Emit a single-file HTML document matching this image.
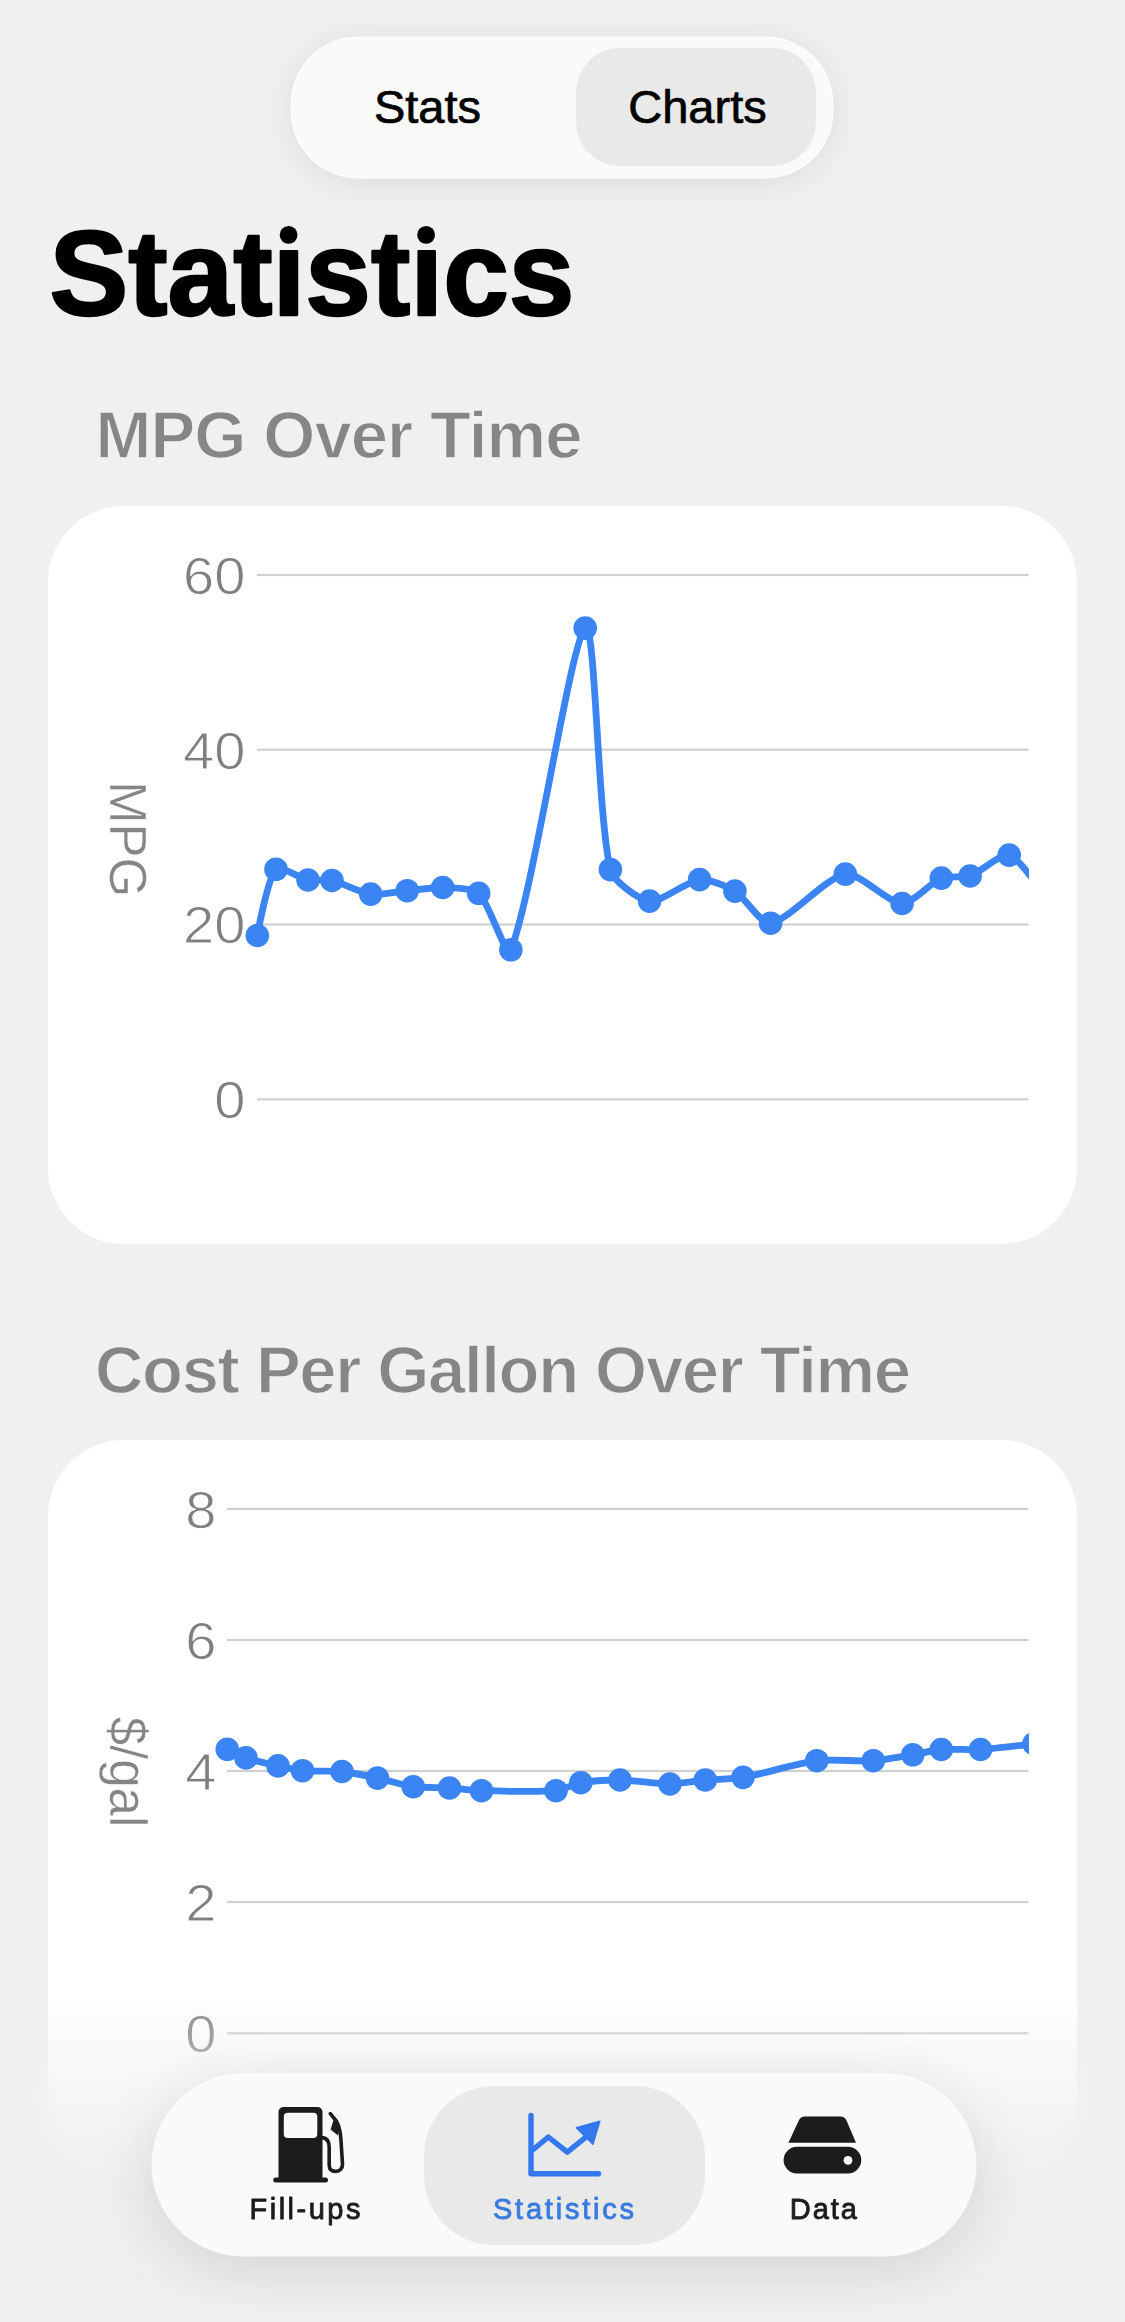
<!DOCTYPE html>
<html><head><meta charset="utf-8">
<style>
*{margin:0;padding:0;box-sizing:border-box}
html,body{width:1125px;height:2322px;overflow:hidden;background:#f0f0f0;font-family:"Liberation Sans",sans-serif;position:relative}
.a{position:absolute}
.card{position:absolute;left:48px;width:1029px;background:#fff;border-radius:76px}
.seg{left:292px;top:38px;width:540px;height:139px;border-radius:66px;background:#fafafa;box-shadow:0 0 0 1.5px rgba(255,255,255,0.9),0 4px 36px rgba(0,0,0,0.09)}
.segsel{left:576px;top:48px;width:240px;height:118px;border-radius:44px;background:#e9e9e9}
svg{position:absolute;left:0;top:0;overflow:visible}
.al{font-family:"Liberation Sans",sans-serif;font-size:51px;fill:#7f7f7f;stroke:#fff;stroke-width:0.9px}
.h2{font-family:"Liberation Sans",sans-serif;font-weight:700;font-size:67px;fill:#868686;stroke:#f0f0f0;stroke-width:1.3px}
.blur{left:0;top:2040px;width:1125px;height:282px;backdrop-filter:blur(10px);-webkit-backdrop-filter:blur(10px);
  -webkit-mask-image:linear-gradient(to bottom,rgba(0,0,0,0) 0,#000 45%);mask-image:linear-gradient(to bottom,rgba(0,0,0,0) 0,#000 45%)}
.fade{left:0;top:2000px;width:1125px;height:322px;background:linear-gradient(to bottom,rgba(240,240,240,0.12) 0%,rgba(240,240,240,0.5) 25%,rgba(239,239,239,0.88) 50%,rgba(239,239,239,0.98) 70%,rgba(240,240,240,1) 100%)}
.tab{left:153px;top:2075px;width:822px;height:180px;border-radius:90px;background:#fafafa;box-shadow:0 0 0 1.5px rgba(255,255,255,0.8),0 12px 64px rgba(0,0,0,0.13)}
.tabsel{left:424px;top:2086px;width:281px;height:159px;border-radius:70px;background:#e9e9e9}
.tl{font-family:"Liberation Sans",sans-serif;font-weight:400;font-size:29px;stroke-width:0.85px;stroke-linejoin:round}
</style></head><body>
<div class="card" style="top:506px;height:738px"></div>
<div class="card" style="top:1440px;height:738px"></div>
<svg width="1125" height="2322" viewBox="0 0 1125 2322">
<text x="49.5" y="315" style="font-family:'Liberation Sans',sans-serif;font-weight:700;font-size:121px" fill="#000" stroke="#000" stroke-width="2.4" stroke-linejoin="round" textLength="525" lengthAdjust="spacingAndGlyphs">Statıstıcs</text>
<circle cx="288.6" cy="234.9" r="8.9" fill="#000"/><circle cx="426.1" cy="234.9" r="8.9" fill="#000"/>
<text x="95.5" y="458.3" class="h2" textLength="487" lengthAdjust="spacing">MPG Over Time</text>
<text x="95" y="1392.6" class="h2" textLength="816" lengthAdjust="spacing">Cost Per Gallon Over Time</text>
<clipPath id="c1"><rect x="237" y="515" width="792" height="644"/></clipPath>
<rect x="257" y="573.9" width="771.5" height="2.2" fill="#d0d0d0"/>
<rect x="257" y="748.6" width="771.5" height="2.2" fill="#d0d0d0"/>
<rect x="257" y="923.4" width="771.5" height="2.2" fill="#d0d0d0"/>
<rect x="257" y="1098.2" width="771.5" height="2.2" fill="#d0d0d0"/>
<text transform="translate(245.5 593.8) scale(1.1 1)" text-anchor="end" class="al" letter-spacing="0">60</text>
<text transform="translate(245.5 768.5) scale(1.1 1)" text-anchor="end" class="al" letter-spacing="0">40</text>
<text transform="translate(245.5 943.3) scale(1.1 1)" text-anchor="end" class="al" letter-spacing="0">20</text>
<text transform="translate(245.5 1118.1) scale(1.1 1)" text-anchor="end" class="al" letter-spacing="0">0</text>
<text transform="translate(110.0 839.0) rotate(90)" text-anchor="middle" class="al" style="fill:#858585;stroke-width:0.4px">MPG</text>
<g clip-path="url(#c1)">
<path d="M257.3 935.5 C257.3 935.5 267.5 878.6 276.0 869.3 C280.2 864.7 299.8 878.4 308.0 880.0 C313.8 881.2 326.2 879.2 332.0 880.5 C341.9 882.7 360.8 892.8 370.7 894.1 C379.6 895.3 398.1 891.5 407.2 890.7 C416.1 889.9 433.9 887.2 442.7 887.5 C451.7 887.8 472.6 887.7 478.7 893.3 C489.6 903.3 506.5 960.7 510.9 949.8 C533.1 894.4 570.9 639.7 585.2 628.1 C595.7 619.6 597.1 813.1 610.4 869.6 C613.2 881.3 638.9 899.9 649.6 901.1 C661.2 902.4 686.9 881.1 699.6 879.6 C708.2 878.6 727.2 886.3 734.9 891.1 C744.9 897.2 761.0 924.7 770.6 923.2 C788.6 920.4 826.1 877.0 845.3 874.1 C859.0 872.0 888.2 902.9 902.1 903.5 C912.2 903.9 930.8 882.3 941.3 878.1 C947.8 875.5 963.4 878.3 970.1 876.0 C980.4 872.5 1000.8 852.9 1009.2 855.1 C1019.5 857.9 1045.0 896.0 1045.0 896.0" fill="none" stroke="#3b84f3" stroke-width="6.8" stroke-linejoin="round"/>
<circle cx="257.3" cy="935.5" r="11.8" fill="#3b84f3"/>
<circle cx="276.0" cy="869.3" r="11.8" fill="#3b84f3"/>
<circle cx="308.0" cy="880.0" r="11.8" fill="#3b84f3"/>
<circle cx="332.0" cy="880.5" r="11.8" fill="#3b84f3"/>
<circle cx="370.7" cy="894.1" r="11.8" fill="#3b84f3"/>
<circle cx="407.2" cy="890.7" r="11.8" fill="#3b84f3"/>
<circle cx="442.7" cy="887.5" r="11.8" fill="#3b84f3"/>
<circle cx="478.7" cy="893.3" r="11.8" fill="#3b84f3"/>
<circle cx="510.9" cy="949.8" r="11.8" fill="#3b84f3"/>
<circle cx="585.2" cy="628.1" r="11.8" fill="#3b84f3"/>
<circle cx="610.4" cy="869.6" r="11.8" fill="#3b84f3"/>
<circle cx="649.6" cy="901.1" r="11.8" fill="#3b84f3"/>
<circle cx="699.6" cy="879.6" r="11.8" fill="#3b84f3"/>
<circle cx="734.9" cy="891.1" r="11.8" fill="#3b84f3"/>
<circle cx="770.6" cy="923.2" r="11.8" fill="#3b84f3"/>
<circle cx="845.3" cy="874.1" r="11.8" fill="#3b84f3"/>
<circle cx="902.1" cy="903.5" r="11.8" fill="#3b84f3"/>
<circle cx="941.3" cy="878.1" r="11.8" fill="#3b84f3"/>
<circle cx="970.1" cy="876.0" r="11.8" fill="#3b84f3"/>
<circle cx="1009.2" cy="855.1" r="11.8" fill="#3b84f3"/>
<circle cx="1045.0" cy="896.0" r="11.8" fill="#3b84f3"/>
</g>
<clipPath id="c2"><rect x="207" y="1448" width="822" height="645"/></clipPath>
<rect x="227" y="1507.8" width="801.5" height="2.2" fill="#d0d0d0"/>
<rect x="227" y="1638.9" width="801.5" height="2.2" fill="#d0d0d0"/>
<rect x="227" y="1769.9" width="801.5" height="2.2" fill="#d0d0d0"/>
<rect x="227" y="1900.9" width="801.5" height="2.2" fill="#d0d0d0"/>
<rect x="227" y="2032.2" width="801.5" height="2.2" fill="#d0d0d0"/>
<text transform="translate(216.5 1527.7) scale(1.1 1)" text-anchor="end" class="al" letter-spacing="0">8</text>
<text transform="translate(216.5 1658.8) scale(1.1 1)" text-anchor="end" class="al" letter-spacing="0">6</text>
<text transform="translate(216.5 1789.8) scale(1.1 1)" text-anchor="end" class="al" letter-spacing="0">4</text>
<text transform="translate(216.5 1920.8) scale(1.1 1)" text-anchor="end" class="al" letter-spacing="0">2</text>
<text transform="translate(216.5 2052.1) scale(1.1 1)" text-anchor="end" class="al" letter-spacing="0">0</text>
<text transform="translate(110.0 1772.0) rotate(90)" text-anchor="middle" class="al" style="fill:#858585;stroke-width:0.4px">$/gal</text>
<g clip-path="url(#c2)">
<path d="M227.3 1749.3 C227.3 1749.3 241.1 1756.3 246.0 1757.9 C253.8 1760.5 270.0 1764.1 278.0 1765.9 C284.1 1767.3 296.3 1770.2 302.5 1770.7 C312.3 1771.6 332.2 1770.5 342.0 1771.5 C351.0 1772.4 368.7 1776.2 377.5 1778.1 C386.5 1780.0 404.2 1785.5 413.2 1786.7 C422.2 1787.9 440.4 1787.5 449.5 1788.0 C457.5 1788.5 473.5 1790.5 481.5 1790.7 C500.1 1791.2 537.6 1792.2 556.0 1790.7 C562.4 1790.2 574.4 1783.8 580.8 1782.7 C590.4 1781.1 610.2 1779.9 620.0 1780.0 C632.5 1780.2 657.4 1784.0 669.9 1784.0 C678.8 1784.0 696.4 1780.8 705.3 1780.0 C714.7 1779.2 733.7 1779.0 743.0 1777.4 C761.6 1774.2 798.2 1763.1 816.8 1760.7 C830.7 1758.9 859.2 1761.6 873.3 1760.7 C883.2 1760.1 902.9 1756.4 912.8 1754.8 C919.9 1753.6 934.1 1750.1 941.3 1749.5 C951.0 1748.7 970.7 1750.1 980.5 1749.5 C993.9 1748.7 1020.6 1745.3 1034.0 1743.7 C1044.3 1742.5 1075.0 1738.0 1075.0 1738.0" fill="none" stroke="#3b84f3" stroke-width="6.8" stroke-linejoin="round"/>
<circle cx="227.3" cy="1749.3" r="11.8" fill="#3b84f3"/>
<circle cx="246.0" cy="1757.9" r="11.8" fill="#3b84f3"/>
<circle cx="278.0" cy="1765.9" r="11.8" fill="#3b84f3"/>
<circle cx="302.5" cy="1770.7" r="11.8" fill="#3b84f3"/>
<circle cx="342.0" cy="1771.5" r="11.8" fill="#3b84f3"/>
<circle cx="377.5" cy="1778.1" r="11.8" fill="#3b84f3"/>
<circle cx="413.2" cy="1786.7" r="11.8" fill="#3b84f3"/>
<circle cx="449.5" cy="1788.0" r="11.8" fill="#3b84f3"/>
<circle cx="481.5" cy="1790.7" r="11.8" fill="#3b84f3"/>
<circle cx="556.0" cy="1790.7" r="11.8" fill="#3b84f3"/>
<circle cx="580.8" cy="1782.7" r="11.8" fill="#3b84f3"/>
<circle cx="620.0" cy="1780.0" r="11.8" fill="#3b84f3"/>
<circle cx="669.9" cy="1784.0" r="11.8" fill="#3b84f3"/>
<circle cx="705.3" cy="1780.0" r="11.8" fill="#3b84f3"/>
<circle cx="743.0" cy="1777.4" r="11.8" fill="#3b84f3"/>
<circle cx="816.8" cy="1760.7" r="11.8" fill="#3b84f3"/>
<circle cx="873.3" cy="1760.7" r="11.8" fill="#3b84f3"/>
<circle cx="912.8" cy="1754.8" r="11.8" fill="#3b84f3"/>
<circle cx="941.3" cy="1749.5" r="11.8" fill="#3b84f3"/>
<circle cx="980.5" cy="1749.5" r="11.8" fill="#3b84f3"/>
<circle cx="1034.0" cy="1743.7" r="11.8" fill="#3b84f3"/>
<circle cx="1075.0" cy="1738.0" r="11.8" fill="#3b84f3"/>
</g>
</svg>
<div class="a blur"></div>
<div class="a fade"></div>
<div class="a seg"></div>
<div class="a segsel"></div>
<svg width="1125" height="300" viewBox="0 0 1125 300">
<text x="427.5" y="123.3" text-anchor="middle" style="font-family:'Liberation Sans',sans-serif;font-size:47px" fill="#000" stroke="#000" stroke-width="0.7">Stats</text>
<text x="697.5" y="123.3" text-anchor="middle" style="font-family:'Liberation Sans',sans-serif;font-size:47px" fill="#000" stroke="#000" stroke-width="0.7">Charts</text>
</svg>
<div class="a tab"></div>
<div class="a tabsel"></div>
<svg width="1125" height="2322" viewBox="0 0 1125 2322">
<!-- fuel pump -->
<g fill="#1c1c1e">
<path fill-rule="evenodd" d="M283.5 2107h34a5 5 0 0 1 5 5v66.5h-44v-66.5a5 5 0 0 1 5-5zM287.8 2112.8h25.5a4 4 0 0 1 4 4v17.3a4 4 0 0 1 -4 4h-25.5a4 4 0 0 1 -4 -4v-17.3a4 4 0 0 1 4 -4z"/>
<rect x="273.2" y="2177.6" width="54.8" height="5" rx="2.5"/>
<path d="M333.8 2119.2 L330.6 2129.6 L338 2135.6 L339.6 2125.5 Z"/>
</g>
<path d="M322.5 2137.6 C327.4 2138.2 329.2 2141.8 329.2 2147 L329.2 2165 C329.2 2169.6 332 2171.4 335.7 2171.4 C339.8 2171.4 342.7 2168.5 342.5 2164 L340.9 2139 C340.4 2131 338.6 2125 336.3 2121 L330.3 2113.6" fill="none" stroke="#1c1c1e" stroke-width="3.6" stroke-linecap="round" stroke-linejoin="round"/>
<!-- chart icon -->
<g fill="none" stroke="#3478f0" stroke-width="5.4" stroke-linecap="round" stroke-linejoin="round">
<path d="M531 2115.5 V2173.7 H598.5"/>
<path d="M531.5 2151 L548.3 2137 L567.3 2152.2 L585 2137.8"/>
</g>
<path d="M599.8 2121.3 L576.4 2127.8 L592.9 2144.2 Z" fill="#3478f0" stroke="#3478f0" stroke-width="1.5" stroke-linejoin="round"/>
<!-- drive icon -->
<path d="M805 2116.6 H840.3 C843.3 2116.6 845.3 2118 846.5 2120.6 L856 2142.8 H788.4 L798.8 2120.6 C800 2118 802 2116.6 805 2116.6 Z" fill="#1c1c1e"/>
<rect x="783.6" y="2146.8" width="77.7" height="26.6" rx="13.3" fill="#1c1c1e"/>
<circle cx="848" cy="2160.3" r="4.4" fill="#fafafa"/>
<text x="305" y="2218.5" text-anchor="middle" textLength="111" lengthAdjust="spacing" class="tl" fill="#1c1c1e" stroke="#1c1c1e">Fill-ups</text>
<text x="563.5" y="2218.5" text-anchor="middle" textLength="141" lengthAdjust="spacing" class="tl" fill="#3a7be0" stroke="#3a7be0">Statistics</text>
<text x="823.3" y="2218.5" text-anchor="middle" textLength="67" lengthAdjust="spacing" class="tl" fill="#1c1c1e" stroke="#1c1c1e">Data</text>
</svg>
</body></html>
